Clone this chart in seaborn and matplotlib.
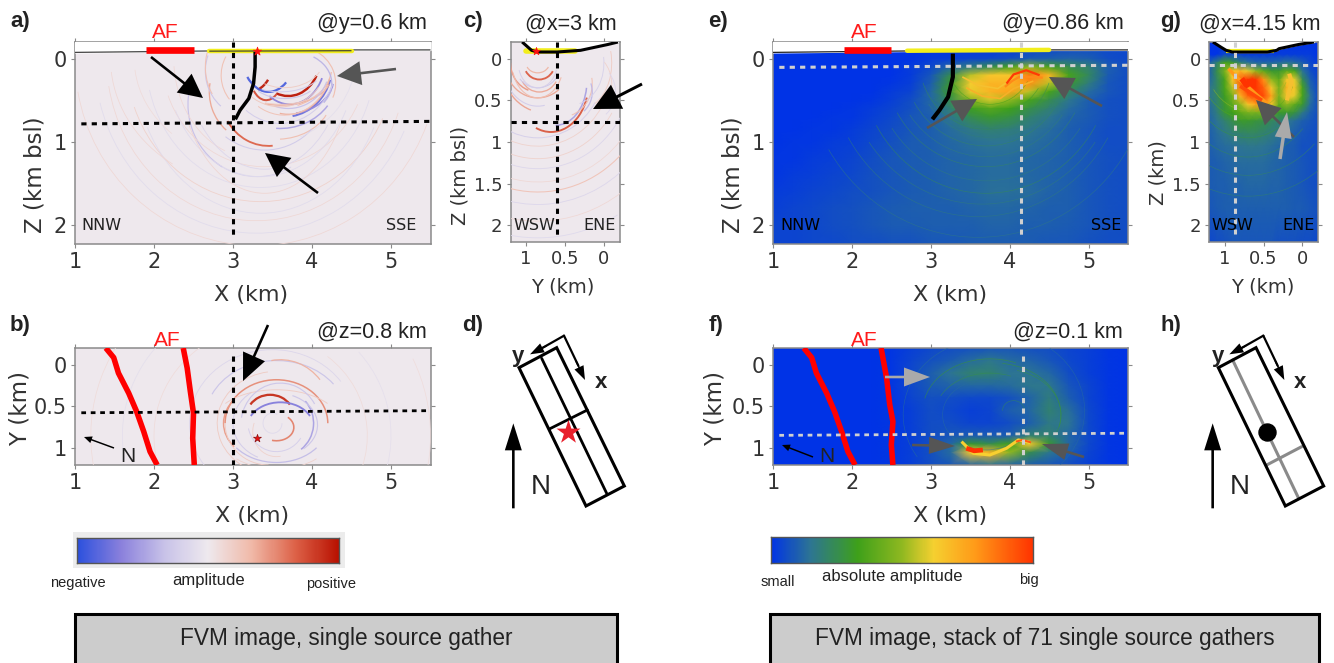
import numpy as np
import seaborn as sns
import matplotlib
matplotlib.use("Agg")
import matplotlib.pyplot as plt
from matplotlib.colors import LinearSegmentedColormap, Normalize
from matplotlib.patches import Arc, Rectangle, Polygon

# =============================
# Data
# =============================
# events: centre x, centre z, radius x, radius z, theta start, theta end, amplitude (-1..1)
events_a = [
    (3.45, 0.45, 0.60, 0.60, 85, 150, 0.66), (3.55, 0.45, 0.70, 0.52, 20, 85, 0.3),
    (3.60, 0.22, 0.72, 0.62, 30, 95, -0.48), (3.65, 0.10, 0.60, 0.60, 15, 80, -0.78),
    (3.65, 0.25, 0.62, 0.42, 5, 70, -0.62), (3.70, 0.00, 0.40, 0.45, 30, 110, 0.97),
    (3.20, 0.05, 0.30, 0.35, 40, 70, 0.95), (3.42, 0.20, 0.20, 0.30, 60, 130, 0.75),
    (3.45, -0.10, 0.35, 0.50, 60, 130, -0.88), (3.72, 0.00, 0.45, 0.55, 30, 120, -0.65),
    (3.70, 0.05, 0.55, 0.62, 20, 100, 0.38), (3.60, 0.20, 0.65, 0.36, 10, 120, 0.38),
    (3.55, 0.10, 0.70, 0.50, 5, 60, 0.32), (3.75, 0.30, 0.50, 0.38, -50, 30, -0.4),
    (3.80, 0.30, 0.50, 0.45, -60, 20, 0.3), (3.30, 0.55, 0.87, 0.87, 120, 200, -0.34),
    (3.30, 0.55, 0.87, 0.87, 60, 120, -0.18), (3.30, 0.40, 0.60, 0.60, 130, 190, 0.4),
    (3.20, 0.15, 0.55, 0.55, 130, 200, -0.3), (3.30, 0.20, 0.45, 0.45, 140, 210, 0.28),
    (3.30, 0.10, 0.65, 0.65, 150, 200, 0.28), (3.40, 0.35, 0.80, 0.75, 40, 130, -0.26),
    (3.70, 0.10, 0.52, 0.50, 20, 110, -0.34), (3.65, 0.00, 0.62, 0.68, 30, 120, 0.25),
    (3.60, 0.00, 0.72, 0.78, 25, 125, -0.24), (3.60, 0.00, 0.60, 0.58, 35, 130, 0.22),
    (3.65, 0.00, 0.50, 0.35, 20, 130, 0.2), (3.60, 0.10, 0.55, 0.30, 20, 130, -0.25),
    (3.65, 0.20, 0.45, 0.28, 30, 150, -0.3), (3.60, 0.30, 0.55, 0.25, 10, 130, 0.22),
    (3.40, 0.00, 1.30, 1.30, 25, 160, 0.12), (3.35, 0.00, 1.20, 1.42, 30, 150, -0.13),
    (3.35, 0.00, 1.45, 1.55, 20, 165, -0.12), (3.35, 0.00, 1.70, 1.72, 25, 160, 0.16),
    (3.35, 0.00, 1.60, 1.86, 30, 150, -0.12), (3.30, 0.00, 1.90, 1.95, 20, 170, 0.12),
    (3.30, 0.00, 2.05, 2.10, 25, 165, -0.12), (3.30, 0.00, 2.30, 2.25, 20, 170, 0.12),
    (3.30, 0.00, 1.05, 1.20, 110, 175, 0.12), (3.30, 0.00, 1.25, 1.05, 10, 60, -0.1),
    (3.40, 0.00, 1.10, 1.62, 40, 140, 0.14), (3.40, 0.00, 1.00, 1.33, 45, 135, -0.16),
    (3.30, 0.00, 1.55, 1.25, 140, 175, 0.1), (3.30, 0.00, 1.85, 1.55, 130, 175, 0.12),
]
events_b = [
    (3.55, 0.70, 0.65, 0.52, 180, 360, 0.5), (3.35, 0.70, 0.47, 0.40, 140, 220, 0.45),
    (3.47, 0.62, 0.30, 0.26, 210, 330, 0.88), (3.60, 0.75, 0.42, 0.30, 200, 340, -0.68),
    (3.60, 0.70, 0.42, 0.40, -40, 50, -0.5), (3.55, 0.75, 0.22, 0.16, -40, 110, 0.55),
    (3.55, 0.65, 0.90, 0.70, 200, 330, -0.32), (3.60, 0.60, 0.65, 0.66, 260, 320, 0.36),
    (3.55, 0.70, 0.65, 0.47, 30, 150, -0.36), (3.55, 0.70, 0.80, 0.55, 40, 140, 0.16),
    (3.50, 0.70, 0.12, 0.12, 0, 300, -0.14), (3.55, 0.80, 0.30, 0.30, 80, 200, 0.16),
    (3.50, 0.70, 1.05, 0.88, 150, 330, -0.16), (3.40, 0.85, 1.40, 1.30, 170, 300, 0.1),
    (3.30, 0.85, 1.70, 1.60, 170, 280, -0.1), (3.30, 0.85, 2.10, 2.00, 170, 230, 0.1),
    (3.40, 0.85, 1.30, 1.20, -50, 40, 0.1), (3.40, 0.85, 1.60, 1.50, -40, 30, -0.09),
    (3.30, 0.85, 2.20, 2.10, -25, 25, 0.09), (3.55, 0.70, 0.55, 0.45, 120, 230, -0.24),
    (3.55, 0.70, 0.75, 0.62, 130, 260, 0.2), (3.55, 0.72, 0.52, 0.38, 300, 400, -0.3),
    (3.55, 0.70, 0.80, 0.40, 200, 340, 0.2), (3.60, 0.72, 0.50, 0.50, 190, 330, -0.3),
    (3.55, 0.70, 0.36, 0.34, 30, 170, -0.22), (3.45, 0.70, 0.55, 0.50, 90, 180, 0.2),
]
# panel c: centre y, centre z, radius y, radius z, theta start, theta end, amplitude
events_c = [
    (0.68, 0.30, 0.48, 0.58, 70, 160, 0.7), (0.62, 0.28, 0.40, 0.52, 90, 170, -0.5),
    (0.83, 0.05, 0.20, 0.20, 30, 150, 0.68), (0.83, 0.15, 0.25, 0.25, 30, 150, 0.4),
    (0.85, 0.05, 0.35, 0.35, 0, 70, 0.46), (0.85, 0.05, 0.42, 0.42, 30, 130, 0.4),
    (0.75, 0.10, 0.55, 0.55, 20, 70, 0.42), (0.85, 0.05, 0.30, 0.30, 40, 150, -0.28),
    (0.55, 0.30, 0.40, 0.40, 110, 190, 0.28), (0.45, 0.40, 0.30, 0.30, 130, 200, -0.38),
    (0.85, 0.05, 0.15, 0.12, 20, 160, 0.35), (0.85, 0.05, 0.25, 0.30, 20, 160, -0.22),
    (0.85, 0.05, 0.33, 0.42, 20, 150, 0.3), (0.85, 0.05, 0.45, 0.52, 10, 100, -0.25),
    (0.40, 0.05, 0.40, 0.50, 100, 190, -0.2), (0.30, 0.05, 0.40, 0.55, 110, 200, 0.2),
    (0.85, 0.10, 0.85, 0.85, 30, 150, -0.22), (0.85, 0.10, 0.95, 0.95, 40, 150, 0.16),
    (0.85, 0.10, 1.10, 1.10, 30, 150, 0.16), (0.85, 0.10, 1.22, 1.22, 30, 150, -0.16),
    (0.85, 0.10, 1.50, 1.50, 40, 150, 0.26), (0.85, 0.10, 1.38, 1.38, 50, 140, 0.12),
    (0.85, 0.10, 1.65, 1.65, 50, 135, -0.16), (0.85, 0.10, 1.85, 1.85, 60, 130, 0.12),
    (0.85, 0.10, 2.05, 2.05, 60, 120, -0.14), (0.30, 0.30, 0.40, 0.40, 150, 220, 0.16),
    (0.20, 0.40, 0.35, 0.35, 130, 220, -0.16),
]

xs_stack = [1, 1.25, 1.5, 1.75, 2, 2.25, 2.5, 2.75, 3, 3.25, 3.5, 3.75, 4, 4.25, 4.5, 4.75, 5, 5.25, 5.5]
zs_e = [-0.2, 0, 0.1, 0.2, 0.3, 0.4, 0.5, 0.6, 0.7, 0.85, 1, 1.2, 1.4, 1.6, 1.8, 2, 2.25]
grid_e = [
    [0, 0, 0, 0, 0, 0, 0, 0, 0, 0, 0, 0, 0, 0, .2, .3, .4, .5, .5],
    [0, 0, 0, 0, 0, 0, 0, 0, .2, .3, .4, .5, .7, .9, 1, 1.1, 1, .6, .5],
    [0, 0, 0, 0, 0, 0, 0, .2, .5, 1.2, 1.8, 2.5, 3.5, 5, 3.5, 2.5, 2, 1, .6],
    [0, 0, 0, 0, 0, 0, 0, .2, .8, 2.5, 5.5, 6.5, 6.5, 8.5, 7, 3.5, 2.3, .9, .6],
    [0, 0, 0, 0, 0, 0, .1, .3, 1, 3, 6.3, 7, 7, 8, 5.5, 3, 1.8, .8, .6],
    [0, 0, 0, 0, 0, 0, .2, .4, 1.2, 3, 6, 7, 7.5, 5.5, 3.5, 2.2, 1.3, .8, .6],
    [0, 0, 0, 0, 0, .1, .3, .6, 1.2, 2.5, 4.8, 5.8, 5, 3.5, 2.5, 1.6, 1, .7, .6],
    [0, 0, 0, 0, .1, .2, .4, .7, 1.1, 2, 3.2, 3.8, 3.3, 2.6, 2, 1.3, .9, .7, .6],
    [0, 0, 0, .1, .1, .3, .5, .8, 1, 1.6, 2.5, 3, 2.7, 2.1, 1.6, 1.1, .9, .7, .6],
    [0, 0, .1, .1, .2, .4, .6, .8, 1, 1.3, 1.7, 2, 1.9, 1.6, 1.3, 1, .8, .6, .6],
    [0, .1, .1, .2, .3, .5, .7, .9, 1, 1.2, 1.4, 1.5, 1.5, 1.4, 1.2, 1, .8, .6, .6],
    [.1, .1, .2, .3, .4, .6, .8, .9, 1, 1.1, 1.2, 1.3, 1.3, 1.2, 1.1, 1, .8, .7, .6],
    [.1, .2, .3, .4, .5, .7, .8, .9, 1, 1.1, 1.2, 1.3, 1.3, 1.2, 1.1, 1, .8, .7, .6],
    [.2, .3, .4, .5, .6, .7, .8, .9, 1, 1.1, 1.2, 1.4, 1.4, 1.3, 1.1, 1, .8, .7, .6],
    [.3, .4, .5, .6, .7, .8, .9, 1, 1, 1, 1.1, 1.2, 1.2, 1.1, 1, 1, .8, .7, .6],
    [.4, .4, .5, .6, .7, .8, .9, .9, 1, 1, 1, 1.1, 1.1, 1, 1, .9, .8, .7, .6],
    [.4, .4, .5, .5, .6, .6, .7, .7, .8, .8, .9, .9, .9, .9, .8, .8, .7, .6, .6],
]
ys_f = [-0.2, -0.05, 0.1, 0.25, 0.4, 0.55, 0.7, 0.85, 0.95, 1.05, 1.2]
grid_f = [
    [0, 0, 0, 0, 0, 0, .1, .3, .5, .6, .7, .8, .8, .7, .6, .4, .3, .1, 0],
    [0, 0, 0, 0, 0, 0, .1, .4, .7, .9, 1.3, 1.6, 1.3, 1.1, .8, .5, .3, .1, 0],
    [0, 0, 0, 0, 0, 0, .1, .5, 1, 1.5, 2, 2, 1.5, 1.5, 1.2, .6, .3, .1, 0],
    [0, 0, 0, 0, 0, 0, .1, .5, .9, 1.1, 1.2, 1.2, 1.3, 1.6, 1.6, .8, .4, .1, 0],
    [0, 0, 0, 0, 0, 0, .1, .4, .7, .6, .5, .5, .7, 1.1, 1.8, 1, .4, .1, 0],
    [0, 0, 0, 0, 0, 0, .1, .3, .6, .5, .3, .4, 1, 1.2, 2, 1.4, .5, .1, 0],
    [0, 0, 0, 0, 0, 0, .1, .3, .6, .6, .4, .4, .6, 1, 1.7, 1.5, .5, .1, 0],
    [0, 0, 0, 0, 0, 0, .1, .3, .6, .8, .9, .9, 1, 2, 2, 1.2, .5, .1, 0],
    [0, 0, 0, 0, 0, 0, .1, .3, .7, 1.2, 3, 2.5, 3.5, 6.5, 3, 1.2, .5, .1, 0],
    [0, 0, 0, 0, 0, 0, .1, .3, .7, 1.3, 6.5, 7, 5, 2.5, 1.6, 1, .4, .1, 0],
    [0, 0, 0, 0, 0, 0, .1, .3, .6, .8, 1.2, 1.5, 1.2, 1, .8, .6, .3, .1, 0],
]
ys_g = [1.2, 1.1, 1, 0.9, 0.8, 0.7, 0.6, 0.5, 0.4, 0.3, 0.2, 0.1, 0, -0.1, -0.2]
zs_g = [-0.2, -0.05, 0.05, 0.15, 0.25, 0.35, 0.45, 0.55, 0.65, 0.75, 0.9, 1.05, 1.25, 1.5, 1.8, 2.2]
grid_g = [
    [0, 0, 0, 0, 0, 0, 0, 0, 0, 0, 0, 0, 0, 0, 0],
    [0, 0, .5, .5, .3, .2, .2, .2, .2, .2, .2, .2, .2, .2, 0],
    [1, 2, 3.5, 3, 2, 1.5, 1.2, 1.2, 1.2, 1.3, 1.5, 1.3, 1, .5, .2],
    [1, 2.5, 4.5, 6.5, 7, 6, 5, 4, 3, 3, 4, 3.5, 1.5, .7, .3],
    [1.2, 2.2, 3.5, 6.5, 9, 10, 10, 8, 5, 4, 6.5, 6, 2.5, 1, .4],
    [1.5, 2.2, 3.5, 5.5, 8.5, 10, 10, 9, 6.5, 4.5, 7, 6.5, 3.5, 1.2, .5],
    [1.5, 2.2, 3.2, 4.5, 7, 9, 9.5, 9.5, 7.5, 4.5, 6.5, 6, 3.5, 1.5, .5],
    [1.3, 2, 3, 4, 5, 6.5, 7.5, 8, 6.5, 4, 5, 4, 3, 1.3, .6],
    [1.2, 1.8, 2.8, 3.3, 4, 4.5, 4.5, 4.5, 4, 3, 3, 2.7, 1.7, 1, .6],
    [1.1, 1.5, 2, 2.5, 3, 3, 2.8, 2.6, 2.3, 2, 1.6, 1.3, 1, .8, .6],
    [1, 1.3, 1.6, 1.9, 2.1, 2.2, 2.2, 2, 1.8, 1.5, 1.2, 1, .8, .7, .6],
    [1, 1.2, 1.3, 1.4, 1.5, 1.6, 1.6, 1.5, 1.4, 1.2, 1, .9, .7, .7, .6],
    [.9, 1, 1.1, 1.2, 1.3, 1.3, 1.3, 1.3, 1.2, 1.1, 1, .9, .8, .7, .6],
    [.9, 1, 1, 1.1, 1.1, 1.2, 1.2, 1.2, 1.1, 1.1, 1, .9, .8, .7, .6],
    [.8, .9, 1, 1, 1, 1, 1, 1, 1, 1, 1, .9, .9, .8, .7],
    [.5, .6, .7, .8, .8, .8, .8, .8, .8, .7, .7, .7, .6, .6, .5],
]
# fibres in the stacked images: centre, radii, theta start, theta end, value (0..10)
fibres_e = [
    (3.75, 0.0, 0.55, 0.55, 30, 150, 3.4), (3.75, 0.0, 0.72, 0.68, 30, 150, 3.0),
    (3.70, 0.0, 0.85, 0.85, 20, 160, 2.4), (3.70, 0.0, 1.05, 1.05, 30, 150, 2.2),
    (3.70, 0.0, 1.30, 1.30, 30, 150, 2.2), (3.70, 0.0, 1.60, 1.62, 30, 150, 2.4),
    (3.60, 0.0, 1.90, 1.90, 30, 150, 1.8), (3.60, 0.0, 2.20, 2.15, 30, 150, 1.7),
    (3.75, 0.0, 0.95, 0.95, 35, 145, 1.9), (3.70, 0.0, 1.18, 1.18, 35, 145, 1.9),
    (3.70, 0.0, 1.45, 1.47, 35, 145, 1.9), (3.65, 0.0, 1.75, 1.75, 35, 145, 1.9),
]
fibres_f = [
    (3.75, 0.55, 0.85, 0.62, 190, 300, 3.0), (3.80, 0.60, 0.85, 0.62, 280, 370, 3.0),
    (3.75, 0.60, 0.70, 0.50, 200, 300, 2.6), (3.90, 0.60, 0.75, 0.55, 290, 380, 2.8),
    (3.70, 0.60, 1.05, 0.90, 150, 300, 1.4), (3.70, 0.60, 0.55, 0.42, 0, 360, 1.3),
    (3.80, 0.55, 1.15, 0.95, 310, 400, 1.3), (4.05, 0.55, 0.14, 0.12, 180, 360, 2.4),
]
fibres_g = [
    (0.70, 0.0, 0.55, 0.62, 40, 150, 5.0), (0.70, 0.0, 0.65, 0.72, 30, 150, 3.8),
    (0.70, 0.0, 0.80, 0.95, 40, 140, 2.8), (0.70, 0.0, 1.00, 1.18, 50, 130, 2.4),
    (0.70, 0.0, 1.25, 1.40, 50, 130, 2.2), (0.70, 0.0, 1.55, 1.65, 50, 130, 2.1),
]

topo_x = [1, 1.5, 2, 2.5, 3, 3.5, 4, 4.5, 5, 5.5]
topo_a = [-0.075, -0.08, -0.085, -0.09, -0.095, -0.095, -0.10, -0.105, -0.105, -0.105]
topo_c_y = [1.05, 0.93, 0.85, 0.6, 0.3, 0.1, -0.05, -0.18]
topo_c_z = [-0.2, -0.10, -0.08, -0.08, -0.10, -0.14, -0.17, -0.2]
topo_g_y = [1.15, 1.05, 0.98, 0.9, 0.45, 0.33, 0.3, 0.05, -0.15]
topo_g_z = [-0.2, -0.14, -0.10, -0.08, -0.08, -0.10, -0.12, -0.17, -0.2]

fault_a_x = [3.28, 3.28, 3.26, 3.20, 3.09, 3.03]
fault_a_z = [-0.08, 0.10, 0.30, 0.48, 0.62, 0.73]
fault_e_x = [3.28, 3.28, 3.22, 3.11, 3.02]
fault_e_z = [-0.06, 0.22, 0.46, 0.62, 0.73]
af1_x = [1.39, 1.49, 1.55, 1.68, 1.78, 1.87, 1.95, 2.04]
af1_y = [-0.2, -0.085, 0.1, 0.34, 0.56, 0.8, 1.04, 1.2]
af2_x = [2.37, 2.42, 2.46, 2.50, 2.49, 2.51]
af2_y = [-0.2, 0.04, 0.32, 0.58, 0.88, 1.2]
af2f_x = [2.37, 2.44, 2.48, 2.52, 2.50, 2.52]
af2f_y = [-0.2, 0.16, 0.48, 0.68, 0.96, 1.2]

hot_e1_x, hot_e1_z = [3.96, 4.05, 4.21, 4.38], [0.30, 0.19, 0.14, 0.20]
hot_e2_x, hot_e2_z = [3.94, 4.03, 4.12, 4.25, 4.42], [0.34, 0.27, 0.22, 0.22, 0.23]
warm_e_x, warm_e_z = [3.40, 3.60, 3.85, 3.97], [0.22, 0.32, 0.36, 0.28]
warm_e2_x, warm_e2_z = [3.45, 3.65, 3.88, 4.05, 4.30], [0.35, 0.45, 0.48, 0.36, 0.27]
hot_f_x, hot_f_y = [3.39, 3.54, 3.75, 3.96, 4.11, 4.26], [0.92, 1.06, 1.08, 1.00, 0.90, 0.93]
red_f_x, red_f_y = [3.45, 3.55, 3.66], [1.00, 1.03, 1.02]
red_f2_x, red_f2_y = [4.08, 4.16, 4.27], [0.92, 0.90, 0.93]
hot_g_y, hot_g_z = [0.95, 0.85, 0.72, 0.58, 0.45], [0.12, 0.22, 0.32, 0.44, 0.54]
red_g_y, red_g_z = [0.78, 0.72, 0.62], [0.24, 0.32, 0.26]
red_g2_y, red_g2_z = [0.80, 0.68, 0.52], [0.33, 0.40, 0.50]
warm_g_y, warm_g_z = [0.20, 0.14, 0.17], [0.50, 0.28, 0.18]

x_ticks = [1, 2, 3, 4, 5]
z_ticks = [0, 1, 2]
y_ticks = [0, 0.5, 1]
y_tick_labels = ["0", "0.5", "1"]
zc_ticks = [0, 0.5, 1, 1.5, 2]
zc_tick_labels = ["0", "0.5", "1", "1.5", "2"]

# =============================
# Style
# =============================
W, H = 1334, 663
sns.set_theme(style="white")
plt.rcParams["font.family"] = ["DejaVu Sans"]
SANS = "Liberation Sans"
TXT = "#333333"
SPINE = "#8a8a8a"
GRAY_DASH = "#d0d0d0"
DARK_ARROW = "#555555"
LIGHT_ARROW = "#aaaaaa"

amp_cmap = LinearSegmentedColormap.from_list(
    "amp", ["#2b50dd", "#8a80dc", "#c8c2e8", "#eee9ee", "#f0b9a8", "#dd6248", "#b81000"])
stack_cmap = LinearSegmentedColormap.from_list(
    "stack", [(0, "#0033e6"), (0.15, "#2d7592"), (0.33, "#3ea01a"), (0.5, "#8fb820"),
              (0.62, "#f5d030"), (0.78, "#ff9a18"), (1, "#ff3300")])
amp_norm = Normalize(-1, 1)
stack_norm = Normalize(0, 10)


def make_axes(left, top, right, bottom):
    return fig.add_axes([left / W, 1 - bottom / H, (right - left) / W, (bottom - top) / H])


def path(ax, xs, ys, color, lw, dashed=False, cap="butt"):
    sns.lineplot(x=xs, y=ys, ax=ax, sort=False, estimator=None, color=color,
                 linewidth=lw, legend=False, solid_capstyle=cap,
                 dashes=False, zorder=5)
    if dashed:
        ax.lines[-1].set_linestyle((0, (1.7, 1.7)))


def draw_arcs(ax, rows, cmap, norm, stack=False):
    for cx, cz, rx, rz, t1, t2, val in rows:
        lw = 0.5 if stack else 0.4 + 1.4 * abs(val)
        ax.add_patch(Arc((cx, cz), 2 * rx, 2 * rz, theta1=t1, theta2=t2, color=cmap(norm(val)),
                         lw=lw, alpha=0.6 if stack else 0.95, zorder=3))


def finish(ax, xlim, ylim, xticks, yticks, ylabels=None, xlabels=None, size=15):
    ax.set_xlim(xlim)
    ax.set_ylim(ylim)
    ax.set_xticks(xticks)
    ax.set_yticks(yticks)
    if xlabels is not None:
        ax.set_xticklabels(xlabels)
    if ylabels is not None:
        ax.set_yticklabels(ylabels)
    ax.tick_params(direction="out", length=3, width=0.8, color=SPINE, top=True, right=True,
                   bottom=True, left=True, labelsize=size, labelcolor=TXT, pad=3)
    for s in ax.spines.values():
        s.set_color(SPINE)
        s.set_linewidth(1.1)
        s.set_visible(True)
    ax.grid(False)


def label_at(ax, xlabel, xl_px, ylabel, yl_px, xsize=16, ysize=16.5):
    ax.set_xlabel(xlabel, fontsize=xsize, color=TXT, va="center", ha="center")
    ax.set_ylabel(ylabel, fontsize=ysize, color=TXT, va="center", ha="center")
    ax.xaxis.set_label_coords(xl_px[0], xl_px[1], transform=over.transData)
    ax.yaxis.set_label_coords(yl_px[0], yl_px[1], transform=over.transData)


def arrow(x0, y0, x1, y1, color="black", width=2.6, head_w=24, head_l=24):
    over.arrow(x0, y0, x1 - x0, y1 - y0, width=width, head_width=head_w, head_length=head_l,
               length_includes_head=True, color=color, lw=0, zorder=20)


def label(x, y, s, size=14.5, ha="center", color="black", weight="normal", family=SANS):
    over.text(x, y, s, fontsize=size, ha=ha, va="center", color=color, fontweight=weight,
              family=family, zorder=25)


# =============================
# Figure and pixel overlay
# =============================
fig = plt.figure(figsize=(W / 100, H / 100), dpi=100, facecolor="white")
over = fig.add_axes([0, 0, 1, 1], zorder=10)
over.set_xlim(0, W)
over.set_ylim(H, 0)
over.axis("off")
over.patch.set_alpha(0)

ax_a = make_axes(75, 42, 430.5, 244)
ax_b = make_axes(75, 348, 430.5, 465)
ax_c = make_axes(510.5, 42, 619.5, 242)
ax_e = make_axes(773, 42, 1128, 244)
ax_f = make_axes(773, 348, 1128, 465)
ax_g = make_axes(1209, 42, 1318, 242)

# =============================
# Single source gather panels
# =============================
bg = amp_cmap(amp_norm(0))
for ax in (ax_a, ax_b, ax_c):
    ax.set_facecolor(bg)

draw_arcs(ax_a, events_a, amp_cmap, amp_norm)
ax_a.fill_between(topo_x, topo_a, -0.2, color="white", zorder=4)
path(ax_a, topo_x, topo_a, "#444444", 0.9)
path(ax_a, [2.7, 4.5], [-0.09, -0.09], "#f2ee1c", 3.2, cap="round")
path(ax_a, [1.9, 2.5], [-0.10, -0.10], "#ff0000", 4.8)
path(ax_a, [2.7, 4.5], [-0.09, -0.095], "#333333", 0.8)
path(ax_a, fault_a_x, fault_a_z, "black", 2.5)
path(ax_a, [1.08, 5.5], [0.785, 0.755], "black", 2.2, dashed=True)
path(ax_a, [3.0, 3.0], [-0.2, 2.15], "black", 2.2, dashed=True)
sns.scatterplot(x=[3.31], y=[-0.09], ax=ax_a, marker="*", color="#ff1010", s=40, zorder=6,
                edgecolor="#ff1010", legend=False)
finish(ax_a, (1, 5.5), (2.23, -0.2), x_ticks, z_ticks)
label_at(ax_a, "X (km)", (251, 295), "Z (km bsl)", (35, 175))

draw_arcs(ax_b, events_b, amp_cmap, amp_norm)
path(ax_b, af1_x, af1_y, "#ff0000", 4)
path(ax_b, af2_x, af2_y, "#ff0000", 4)
path(ax_b, [1.08, 5.5], [0.575, 0.55], "black", 2.0, dashed=True)
path(ax_b, [3.0, 3.0], [-0.1, 1.2], "black", 2.2, dashed=True)
sns.scatterplot(x=[3.31], y=[0.88], ax=ax_b, marker="*", color="#ee1111", s=35, zorder=6,
                edgecolor="#8a1010", linewidth=0.5, legend=False)
finish(ax_b, (1, 5.5), (1.2, -0.2), x_ticks, y_ticks, ylabels=y_tick_labels)
label_at(ax_b, "X (km)", (252, 516), "Y (km)", (20, 408))

draw_arcs(ax_c, events_c, amp_cmap, amp_norm)
ax_c.fill_between(topo_c_y, topo_c_z, -0.2, color="white", zorder=4)
path(ax_c, [1.0, 0.37], [-0.09, -0.09], "#f2ee1c", 4, cap="round")
path(ax_c, topo_c_y, topo_c_z, "black", 2.2)
path(ax_c, [1.2, -0.2], [0.76, 0.76], "black", 2.2, dashed=True)
path(ax_c, [0.6, 0.6], [-0.2, 2.15], "black", 2.2, dashed=True)
sns.scatterplot(x=[0.87], y=[-0.09], ax=ax_c, marker="*", color="#ff1010", s=35, zorder=6,
                edgecolor="#ff1010", legend=False)
finish(ax_c, (1.2, -0.2), (2.2, -0.2), y_ticks, zc_ticks, xlabels=y_tick_labels, ylabels=zc_tick_labels, size=13)
label_at(ax_c, "Y (km)", (563, 287), "Z (km bsl)", (460, 175), xsize=14, ysize=14)

# =============================
# Stacked panels
# =============================
ax_e.pcolormesh(xs_stack, zs_e, np.array(grid_e), cmap=stack_cmap, norm=stack_norm, shading="gouraud")
draw_arcs(ax_e, fibres_e, stack_cmap, stack_norm, stack=True)
ax_e.fill_between(topo_x, topo_a, -0.2, color="white", zorder=4)
path(ax_e, warm_e_x, warm_e_z, "#f5c030", 1.2)
path(ax_e, warm_e2_x, warm_e2_z, "#f7b028", 1.2)
path(ax_e, hot_e2_x, hot_e2_z, "#ff8a18", 1.6)
path(ax_e, hot_e1_x, hot_e1_z, "#ff3a05", 1.6)
path(ax_e, topo_x, topo_a, "#222222", 0.9)
path(ax_e, [2.7, 4.5], [-0.095, -0.105], "#f2ee1c", 3.2, cap="round")
path(ax_e, [1.9, 2.5], [-0.10, -0.10], "#ff0000", 4.8)
path(ax_e, fault_e_x, fault_e_z, "black", 3)
path(ax_e, [1.08, 5.5], [0.105, 0.08], GRAY_DASH, 2.2, dashed=True)
path(ax_e, [4.14, 4.14], [-0.2, 2.15], GRAY_DASH, 2.2, dashed=True)
finish(ax_e, (1, 5.5), (2.23, -0.2), x_ticks, z_ticks)
label_at(ax_e, "X (km)", (950, 295), "Z (km bsl)", (733, 175))

ax_f.pcolormesh(xs_stack, ys_f, np.array(grid_f), cmap=stack_cmap, norm=stack_norm, shading="gouraud")
draw_arcs(ax_f, fibres_f, stack_cmap, stack_norm, stack=True)
path(ax_f, hot_f_x, hot_f_y, "#f8d030", 2.2)
path(ax_f, red_f_x, red_f_y, "#ff3300", 3.4)
path(ax_f, red_f2_x, red_f2_y, "#ff5a10", 1.4)
path(ax_f, af1_x, af1_y, "#ff0000", 4)
path(ax_f, af2f_x, af2f_y, "#ff0000", 4)
path(ax_f, [1.08, 5.5], [0.845, 0.82], GRAY_DASH, 2.0, dashed=True)
path(ax_f, [4.17, 4.17], [-0.1, 1.2], GRAY_DASH, 2.2, dashed=True)
finish(ax_f, (1, 5.5), (1.2, -0.2), x_ticks, y_ticks, ylabels=y_tick_labels)
label_at(ax_f, "X (km)", (950, 516), "Y (km)", (715, 408))

ax_g.pcolormesh(ys_g, zs_g, np.array(grid_g), cmap=stack_cmap, norm=stack_norm, shading="gouraud")
draw_arcs(ax_g, fibres_g, stack_cmap, stack_norm, stack=True)
ax_g.fill_between(topo_g_y, topo_g_z, -0.2, color="white", zorder=4)
path(ax_g, hot_g_y, hot_g_z, "#ff9a18", 2.5)
path(ax_g, red_g_y, red_g_z, "#ff3300", 4)
path(ax_g, red_g2_y, red_g2_z, "#ff4a08", 2.5)
path(ax_g, warm_g_y, warm_g_z, "#f5c030", 3)
path(ax_g, [0.98, 0.37], [-0.09, -0.09], "#f2ee1c", 3)
path(ax_g, topo_g_y, topo_g_z, "black", 2.2)
path(ax_g, [1.2, -0.2], [0.08, 0.08], GRAY_DASH, 2.2, dashed=True)
path(ax_g, [0.87, 0.87], [-0.2, 2.1], GRAY_DASH, 2.2, dashed=True)
finish(ax_g, (1.2, -0.2), (2.2, -0.2), y_ticks, zc_ticks, xlabels=y_tick_labels, ylabels=zc_tick_labels, size=13)
label_at(ax_g, "Y (km)", (1263, 287), "Z (km)", (1158, 173), xsize=14, ysize=14)

# =============================
# Colour strips
# =============================
over.add_patch(Rectangle((73, 532), 272, 36, color="#ececec", lw=0, zorder=1))
ax_cb1 = make_axes(77, 538, 339, 563)
ax_cb1.set_zorder(15)
ax_cb2 = make_axes(771, 537, 1033, 563)
ax_cb2.set_zorder(15)
sns.heatmap(np.linspace(-1, 1, 256)[None, :], ax=ax_cb1, cmap=amp_cmap, vmin=-1, vmax=1, cbar=False,
            xticklabels=False, yticklabels=False)
sns.heatmap(np.linspace(0, 10, 256)[None, :], ax=ax_cb2, cmap=stack_cmap, vmin=0, vmax=10, cbar=False,
            xticklabels=False, yticklabels=False)
for ax, ticks in ((ax_cb1, [26, 77, 128, 179, 230]), (ax_cb2, [36, 92, 147, 203])):
    for s in ax.spines.values():
        s.set_visible(True)
        s.set_color("#555555")
        s.set_linewidth(1)
    ax.set_xticks(ticks)
    ax.set_xticklabels([])
    ax.tick_params(axis="x", direction="in", length=2, width=0.6, color="#555555", bottom=True)

label(78, 583, "negative", size=10.5, color="#222222")
label(209, 580, "amplitude", size=12, color="#222222")
label(331, 584, "positive", size=10.5, color="#222222")
label(778, 582, "small", size=10.5, color="#222222")
label(892, 577, "absolute amplitude", size=12, color="#222222")
label(1029, 580, "big", size=10.5, color="#222222")

# =============================
# Bottom boxes
# =============================
for x0, x1, txt in ((75, 617, "FVM image, single source gather"),
                    (770, 1319, "FVM image, stack of 71 single source gathers")):
    over.add_patch(Rectangle((x0, 614), x1 - x0, 52, facecolor="#cccccc", edgecolor="black", lw=2.2,
                             clip_on=True, zorder=2))
    label((x0 + x1) / 2, 639, txt, size=16.3, color="#222222")

# =============================
# Panel letters and titles
# =============================
for x, y, s in ((20, 21, "a)"), (20, 325, "b)"), (473, 22, "c)"), (473, 325, "d)"),
                (718, 21, "e)"), (716, 325, "f)"), (1171, 22, "g)"), (1171, 325, "h)")):
    label(x, y, s, size=16, weight="bold", color="#222222")
for x, y, s, ha in ((427, 24, "@y=0.6 km", "right"), (571, 24, "@x=3 km", "center"),
                    (1124, 24, "@y=0.86 km", "right"), (1260, 24, "@x=4.15 km", "center"),
                    (427, 332, "@z=0.8 km", "right"), (1123, 332, "@z=0.1 km", "right")):
    label(x, y, s, size=15.5, ha=ha, color="#222222")
for x, y in ((165, 33), (864, 33), (167, 340), (864, 340)):
    label(x, y, "AF", size=15, color="#ff1a1a")

for x, y, s, ha in ((81, 225, "NNW", "left"), (416, 226, "SSE", "right"),
                    (513, 226, "WSW", "left"), (616, 226, "ENE", "right"),
                    (780, 225, "NNW", "left"), (1121, 226, "SSE", "right"),
                    (1211, 226, "WSW", "left"), (1315, 226, "ENE", "right")):
    label(x, y, s, size=11.5, ha=ha, color="#222222" if x < 700 else "black", family="DejaVu Sans")

# =============================
# Arrows
# =============================
arrow(151, 57, 203, 98)
arrow(318, 193, 265, 153)
arrow(396, 69, 337, 76, color=DARK_ARROW)
arrow(642, 84, 593, 109, width=3, head_w=27, head_l=27)
arrow(268, 325, 243, 381, head_w=24, head_l=27)
arrow(114, 448, 84, 437, width=1.5, head_w=7, head_l=8)
label(128, 456, "N", size=15, color="#222222")
arrow(927, 128, 977, 99, color=DARK_ARROW)
arrow(1102, 106, 1049, 77, color=DARK_ARROW)
arrow(912, 445, 955, 446, color=DARK_ARROW, head_w=17, head_l=26)
arrow(1084, 457, 1042, 444, color=DARK_ARROW, head_w=17, head_l=26)
arrow(885, 377, 930, 377, color=LIGHT_ARROW, head_w=19, head_l=26)
arrow(813, 457, 782, 445, width=1.5, head_w=7, head_l=8)
label(827, 456, "N", size=15, color="#222222")
arrow(1294, 137, 1256, 100, color=DARK_ARROW)
arrow(1280, 159, 1287, 112, color=LIGHT_ARROW, width=3.5, head_w=17, head_l=26)

# =============================
# Orientation sketches
# =============================
for ox, oy, grey in ((450, 305, False), (1150, 305, True)):
    k = 1 / 3
    dx = -2 if grey else 0
    corners = [(207 + dx, 188), (320 + dx, 128), (523 + dx, 543), (408 + dx, 603)]
    pts = [(ox + a * k, oy + b * k) for a, b in corners]
    over.add_patch(Polygon(pts, closed=True, fill=False, edgecolor="black", lw=2.2, zorder=15))
    p = lambda a, b: (ox + (a + dx) * k, oy + b * k)
    if grey:
        over.plot(*zip(p(250, 165), p(447, 578)), color="#8a8a8a", lw=2.2, zorder=14)
        over.plot(*zip(p(352, 480), p(457, 425)), color="#8a8a8a", lw=2.2, zorder=14)
        over.scatter(*p(352, 380), s=150, color="black", zorder=16)
    else:
        over.plot(*zip(p(275, 160), p(470, 565)), color="black", lw=2.0, zorder=14)
        over.plot(*zip(p(298, 372), p(412, 315)), color="black", lw=2.0, zorder=14)
        over.scatter(*p(355, 382), s=330, marker="*", color="#e8202c", zorder=16, lw=0)
    over.plot(*zip(p(342, 92), p(385, 182)), color="black", lw=1.6, zorder=15)
    over.plot(*zip(p(342, 92), p(275, 130)), color="black", lw=1.6, zorder=15)
    arrow(*p(378, 168), *p(405, 225), width=1.6, head_w=10, head_l=14)
    arrow(*p(290, 122), *p(240, 148), width=1.6, head_w=10, head_l=14)
    arrow(*p(190, 610), *p(190, 355), width=2.6, head_w=17, head_l=27)
    label(*p(205, 155), "y", size=16, color="#222222", weight="bold")
    label(*p(452, 232), "x", size=16, color="#222222", weight="bold")
    label(*p(272, 545), "N", size=20, color="#222222")

fig.savefig("out.png", dpi=100)
